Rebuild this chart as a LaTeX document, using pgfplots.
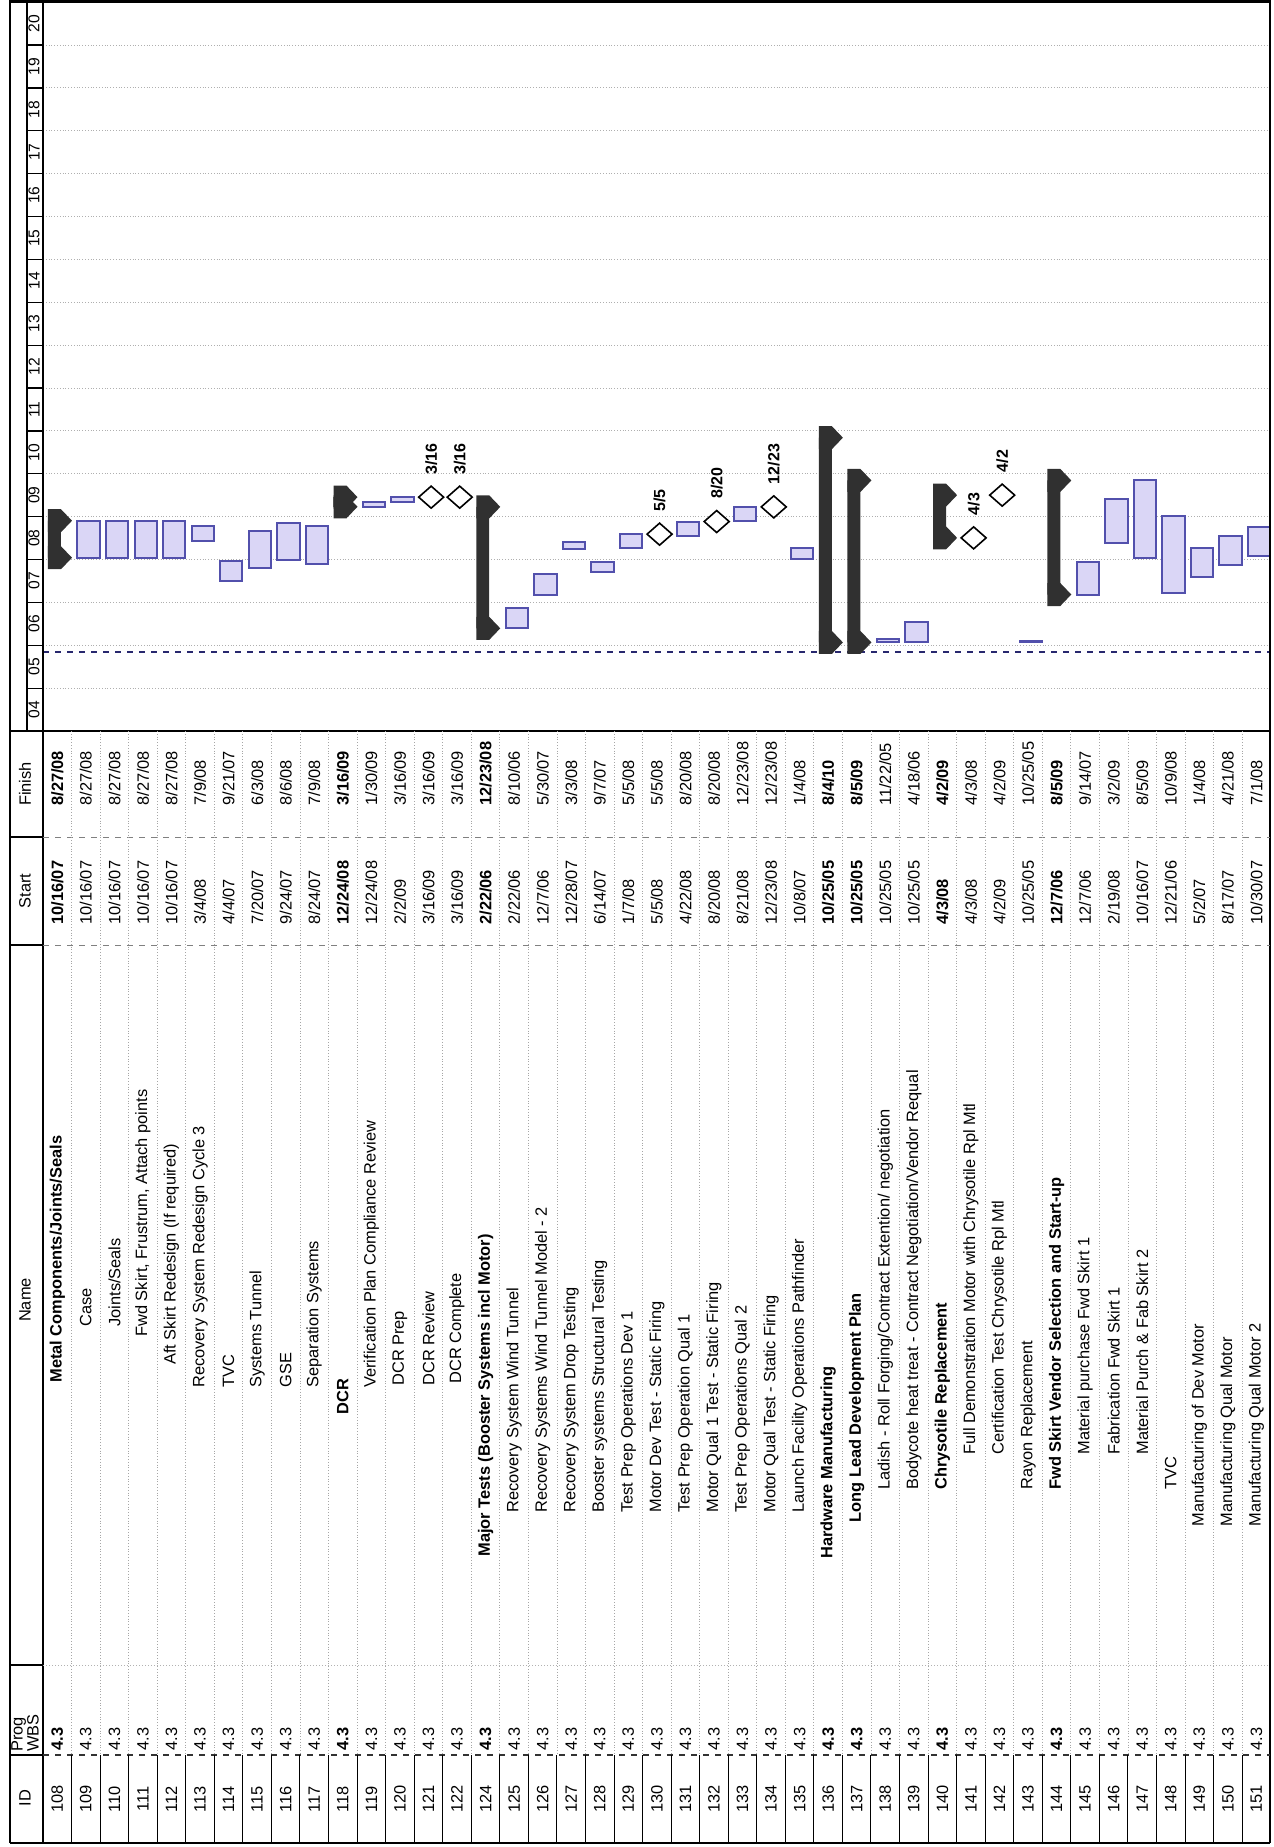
\documentclass[border=0pt]{standalone}
\usepackage{fontspec}
\setmainfont{Liberation Sans}
\usepackage{pgfplots}
\usepackage{pgfplotstable}
\pgfplotsset{compat=1.18}

\definecolor{barfill}{RGB}{218,214,246}
\definecolor{barline}{RGB}{82,80,172}
\definecolor{sumfill}{RGB}{48,48,48}
\definecolor{gridc}{RGB}{175,175,175}
\definecolor{navy}{RGB}{40,40,110}

\newcommand\tf{\fontsize{8.2}{9.8}\selectfont}

% summary bar end cap (points to the right)
\pgfdeclareplotmark{sumcap}{%
  \pgfpathmoveto{\pgfpoint{-6pt}{5.75pt}}%
  \pgfpathlineto{\pgfpoint{0.5pt}{5.75pt}}%
  \pgfpathlineto{\pgfpoint{6pt}{0pt}}%
  \pgfpathlineto{\pgfpoint{0.5pt}{-5.75pt}}%
  \pgfpathlineto{\pgfpoint{-6pt}{-5.75pt}}%
  \pgfpathclose
  \pgfusepathqfill}
% milestone diamond
\pgfdeclareplotmark{mstone}{%
  \pgfpathmoveto{\pgfpoint{0pt}{5.5pt}}%
  \pgfpathlineto{\pgfpoint{6.25pt}{0pt}}%
  \pgfpathlineto{\pgfpoint{0pt}{-5.5pt}}%
  \pgfpathlineto{\pgfpoint{-6.25pt}{0pt}}%
  \pgfpathclose
  \pgfusepathqfillstroke}

% dates as years since 2000; idx = row position (108 -> 0)
\pgfplotstableread{
idx start finish
1 7.792 8.655
2 7.792 8.655
3 7.792 8.655
4 7.792 8.655
5 8.173 8.521
6 7.258 7.723
7 7.551 8.422
8 7.732 8.597
9 7.647 8.521
11 8.981 9.082
12 9.090 9.205
16 6.145 6.608
17 6.934 7.411
18 7.992 8.170
19 7.452 7.685
20 8.019 8.342
22 8.307 8.636
24 8.638 8.978
26 7.770 8.011
29 5.816 5.893
30 5.816 6.296
34 5.816 5.840
36 6.934 7.704
37 8.137 9.167
38 7.792 9.595
39 6.973 8.773
40 7.334 8.011
41 7.627 8.304
42 7.830 8.499
}\tasks

\pgfplotstableread{
idx start finish
0 7.792 8.655
10 8.981 9.205
15 6.145 8.978
27 5.816 10.592
28 5.816 9.595
31 8.255 9.252
35 6.934 9.595
}\summaries

\pgfplotstableread{
idx date label
13 9.205 3/16
14 9.205 3/16
21 8.342 5/5
23 8.636 8/20
25 8.978 12/23
32 8.255 4/3
33 9.252 4/2
}\milestones

\pgfplotsset{gantt/.style={
  scale only axis, width=613.5pt, height=365.5pt,
  at={(21.5pt,-365.5pt)}, anchor=south west,
  xmin=-0.595, xmax=42.38, ymin=3.75, ymax=20.802,
  axis line style={draw=none}, xtick=\empty, ytick=\empty,
  major tick length=0pt}}

% idx, id, name start (px), font, name, start, finish
\newcommand\trow[7]{%
  \node[rotate=90] at ({57.3+28.55*#1},1799) {#2};
  \node[rotate=90, anchor=west, inner sep=0pt] at ({57.3+28.55*#1},1751) {#44.3};
  \node[rotate=90, anchor=west, inner sep=0pt] at ({57.3+28.55*#1},#3) {#4#5};
  \node[rotate=90, anchor=west, inner sep=0pt] at ({57.3+28.55*#1},925) {#4#6};
  \node[rotate=90, anchor=west, inner sep=0pt] at ({57.3+28.55*#1},806) {#4#7};
}

\begin{document}
\begin{tikzpicture}
\useasboundingbox (0,0) rectangle (637pt,-923.5pt);

% fiscal year scale, grid and status line
\begin{axis}[gantt,
  ytick={4.25,5.25,...,20.25},
  yticklabels={\mbox{04},\mbox{05},\mbox{06},\mbox{07},\mbox{08},\mbox{09},\mbox{10},\mbox{11},\mbox{12},\mbox{13},\mbox{14},\mbox{15},\mbox{16},\mbox{17},\mbox{18},\mbox{19},\mbox{20}},
  yticklabel style={rotate=90, anchor=south, inner sep=1.5pt, font=\fontsize{7.8}{9}\selectfont},
  extra y ticks={4.75,5.75,...,19.75}, extra y tick labels={},
  extra y tick style={grid=major},
  major grid style={gridc, densely dotted, line width=0.5pt}]
\addplot[navy, dashed, line width=1pt] coordinates {(-0.595,5.6) (42.38,5.6)};
\end{axis}

% task bars
\begin{axis}[gantt, hide axis, ybar stacked, bar width=0.78]
\addplot[draw=none, fill=none] table[x=idx, y=start] {\tasks};
\addplot[fill=barfill, draw=barline, line width=1pt] table[x=idx, y expr=\thisrow{finish}-\thisrow{start}] {\tasks};
\end{axis}

% summary bars
\begin{axis}[gantt, hide axis, ybar stacked, bar width=0.455]
\addplot[draw=none, fill=none, bar shift=-0.193] table[x=idx, y=start] {\summaries};
\addplot[fill=sumfill, draw=none, bar shift=-0.193] table[x=idx, y expr=\thisrow{finish}-\thisrow{start}] {\summaries};
\end{axis}

% summary caps and milestones
\begin{axis}[gantt, hide axis, clip=false]
\addplot[only marks, mark=sumcap, mark options={fill=sumfill, draw=none}] table[x=idx, y=start] {\summaries};
\addplot[only marks, mark=sumcap, mark options={fill=sumfill, draw=none}] table[x=idx, y=finish] {\summaries};
\addplot[only marks, mark=mstone, mark options={fill=white, draw=black, line width=0.8pt},
  nodes near coords, point meta=explicit symbolic,
  every node near coord/.append style={rotate=90, anchor=west, inner xsep=11pt, inner ysep=0pt,
    text=black, font=\bfseries\fontsize{8}{9}\selectfont}]
  table[x=idx, y=date, meta=label] {\milestones};
\end{axis}

% table grid and text (pixel units, y downward)
\begin{scope}[x=0.5pt, y=-0.5pt, every node/.style={font=\tf}]
\draw[line width=1pt] (10,0) -- (10,1843);
\draw[line width=0.8pt] (43,0) -- (43,1843);
\draw[line width=0.6pt] (27,0) -- (27,731);
\foreach \k in {1,...,16} \draw[line width=0.6pt] (27,{731-42.87*\k}) -- (43,{731-42.87*\k});
\draw[line width=1pt] (10,1843) -- (1270,1843);
\draw[line width=1pt] (1270,0) -- (1270,1843);
\draw[line width=1.2pt] (10,1.5) -- (1270,1.5);
\draw[line width=0.7pt] (10,731) -- (1270,731);
\draw[line width=0.6pt] (10,837) -- (43,837);
\draw[line width=0.6pt] (10,945) -- (43,945);
\draw[line width=0.6pt] (10,1665) -- (43,1665);
\draw[line width=0.6pt] (10,1755) -- (43,1755);
\draw[gray, dashed, line width=0.5pt] (43,837) -- (1270,837);
\draw[gray, dashed, line width=0.5pt] (43,945) -- (1270,945);
\draw[gray!60, densely dotted, line width=0.5pt] (43,1665) -- (1270,1665);
\draw[black!80, dashed, line width=0.6pt] (43,1755) -- (1270,1755);
\foreach \k in {1,...,42} {
  \draw[line width=0.5pt] ({43+28.55*\k},1755) -- ({43+28.55*\k},1843);
  \draw[gray!70, densely dotted, line width=0.4pt] ({43+28.55*\k},731) -- ({43+28.55*\k},1755);
}
% header
\node[rotate=90] at (25,1798) {ID};
\node[rotate=90, anchor=west, align=left, inner sep=0pt, font=\fontsize{8.2}{8}\selectfont] at (25,1752) {Prog\\WBS};
\node[rotate=90] at (25,1300) {Name};
\node[rotate=90] at (25,891) {Start};
\node[rotate=90] at (25,784) {Finish};
% rows
\trow{0}{108}{1383}{\bfseries}{Metal Components/Joints/Seals}{10/16/07}{8/27/08}
\trow{1}{109}{1327}{}{Case}{10/16/07}{8/27/08}
\trow{2}{110}{1327}{}{Joints/Seals}{10/16/07}{8/27/08}
\trow{3}{111}{1337}{}{Fwd Skirt, Frustrum, Attach points}{10/16/07}{8/27/08}
\trow{4}{112}{1365}{}{Aft Skirt Redesign (If required)}{10/16/07}{8/27/08}
\trow{5}{113}{1388}{}{Recovery System Redesign Cycle 3}{3/4/08}{7/9/08}
\trow{6}{114}{1388}{}{TVC}{4/4/07}{9/21/07}
\trow{7}{115}{1388}{}{Systems Tunnel}{7/20/07}{6/3/08}
\trow{8}{116}{1388}{}{GSE}{9/24/07}{8/6/08}
\trow{9}{117}{1388}{}{Separation Systems}{8/24/07}{7/9/08}
\trow{10}{118}{1415}{\bfseries}{DCR}{12/24/08}{3/16/09}
\trow{11}{119}{1388}{}{Verification Plan Compliance Review}{12/24/08}{1/30/09}
\trow{12}{120}{1386}{}{DCR Prep}{2/2/09}{3/16/09}
\trow{13}{121}{1386}{}{DCR Review}{3/16/09}{3/16/09}
\trow{14}{122}{1384}{}{DCR Complete}{3/16/09}{3/16/09}
\trow{15}{124}{1557}{\bfseries}{Major Tests (Booster Systems incl Motor)}{2/22/06}{12/23/08}
\trow{16}{125}{1513}{}{Recovery System Wind Tunnel}{2/22/06}{8/10/06}
\trow{17}{126}{1513}{}{Recovery Systems Wind Tunnel Model - 2}{12/7/06}{5/30/07}
\trow{18}{127}{1513}{}{Recovery System Drop Testing}{12/28/07}{3/3/08}
\trow{19}{128}{1513}{}{Booster systems Structural Testing}{6/14/07}{9/7/07}
\trow{20}{129}{1513}{}{Test Prep Operations Dev 1}{1/7/08}{5/5/08}
\trow{21}{130}{1513}{}{Motor Dev Test - Static Firing}{5/5/08}{5/5/08}
\trow{22}{131}{1513}{}{Test Prep Operation Qual 1}{4/22/08}{8/20/08}
\trow{23}{132}{1513}{}{Motor Qual 1 Test - Static Firing}{8/20/08}{8/20/08}
\trow{24}{133}{1513}{}{Test Prep Operations Qual 2}{8/21/08}{12/23/08}
\trow{25}{134}{1513}{}{Motor Qual Test - Static Firing}{12/23/08}{12/23/08}
\trow{26}{135}{1513}{}{Launch Facility Operations Pathfinder}{10/8/07}{1/4/08}
\trow{27}{136}{1559}{\bfseries}{Hardware Manufacturing}{10/25/05}{8/4/10}
\trow{28}{137}{1523}{\bfseries}{Long Lead Development Plan}{10/25/05}{8/5/09}
\trow{29}{138}{1490}{}{Ladish - Roll Forging/Contract Extention/ negotiation}{10/25/05}{11/22/05}
\trow{30}{139}{1490}{}{Bodycote heat treat - Contract Negotiation/Vendor Requal}{10/25/05}{4/18/06}
\trow{31}{140}{1490}{\bfseries}{Chrysotile Replacement}{4/3/08}{4/2/09}
\trow{32}{141}{1455}{}{Full Demonstration Motor with Chrysotile Rpl Mtl}{4/3/08}{4/3/08}
\trow{33}{142}{1455}{}{Certification Test Chrysotile Rpl Mtl}{4/2/09}{4/2/09}
\trow{34}{143}{1490}{}{Rayon Replacement}{10/25/05}{10/25/05}
\trow{35}{144}{1490}{\bfseries}{Fwd Skirt Vendor Selection and Start-up}{12/7/06}{8/5/09}
\trow{36}{145}{1455}{}{Material purchase Fwd Skirt 1}{12/7/06}{9/14/07}
\trow{37}{146}{1455}{}{Fabrication Fwd Skirt 1}{2/19/08}{3/2/09}
\trow{38}{147}{1455}{}{Material Purch \& Fab Skirt 2}{10/16/07}{8/5/09}
\trow{39}{148}{1490}{}{TVC}{12/21/06}{10/9/08}
\trow{40}{149}{1527}{}{Manufacturing of Dev Motor}{5/2/07}{1/4/08}
\trow{41}{150}{1527}{}{Manufacturing Qual Motor}{8/17/07}{4/21/08}
\trow{42}{151}{1527}{}{Manufacturing Qual Motor 2}{10/30/07}{7/1/08}
\end{scope}
\end{tikzpicture}
\end{document}
